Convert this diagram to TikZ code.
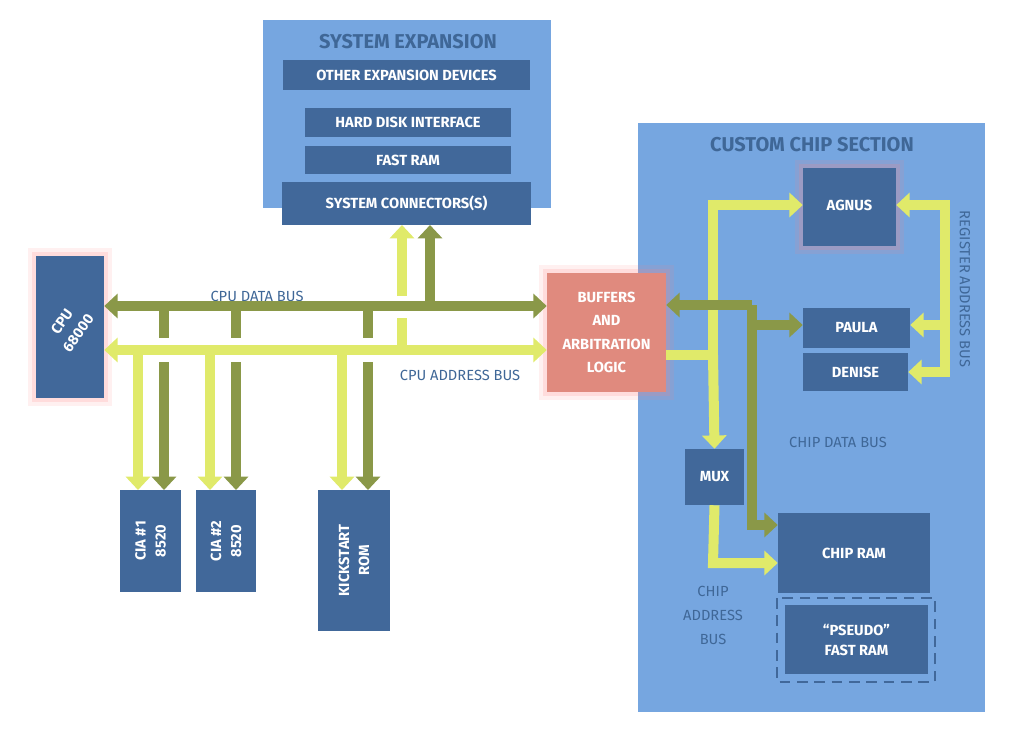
\documentclass[tikz,border=0pt]{standalone}
\usepackage{fontspec}
\setmainfont{Fira Sans}
\usetikzlibrary{arrows.meta}
\definecolor{reg}{HTML}{76A6E0}
\definecolor{blk}{HTML}{41689A}
\definecolor{sal}{HTML}{E08A7E}
\definecolor{ol}{HTML}{8A9848}
\definecolor{yl}{HTML}{E0EA6A}
\definecolor{lab}{HTML}{3F6797}
\begin{document}
\begin{tikzpicture}[x=0.75pt,y=-0.75pt,
  region/.style={fill=reg,draw=none},
  box/.style={fill=blk,draw=none,text=white,font=\bfseries\fontsize{11}{15}\selectfont,align=center,inner sep=0pt},
  glow/.style={preaction={draw=red!50,line width=12pt,draw opacity=0.12},preaction={draw=red!50,line width=6pt,draw opacity=0.18}},
  lbl/.style={text=lab,font=\fontsize{11}{15}\selectfont,align=center},
  ttl/.style={text=lab,font=\bfseries\fontsize{15}{18}\selectfont},
  rtxt/.style={text=white,font=\bfseries\fontsize{11}{15}\selectfont,align=center},
  dbus/.style={draw=ol,line width=7.5pt},
  abus/.style={draw=yl,line width=7.5pt},
  tip/.style={-{Triangle[width=18pt,length=10pt]}},
  tips/.style={{Triangle[width=18pt,length=10pt]}-{Triangle[width=18pt,length=10pt]}}]
\useasboundingbox (0,0) rectangle (1024,740);
% regions
\fill[region] (263,20) rectangle (551,208);
\node[ttl] (sx) at (408,42) {SYSTEM EXPANSION};
\fill[region] (638,123) rectangle (985,712);
\node[ttl] (cc) at (812,145) {CUSTOM CHIP SECTION};
% system expansion boxes
\node[box,minimum width=247*0.75pt,minimum height=30*0.75pt] (oth) at (406.5,75) {OTHER EXPANSION DEVICES};
\node[box,minimum width=206*0.75pt,minimum height=29*0.75pt] (hdi) at (408,122.5) {HARD DISK INTERFACE};
\node[box,minimum width=206*0.75pt,minimum height=28*0.75pt] (fr) at (408,160) {FAST RAM};
\node[box,minimum width=249*0.75pt,minimum height=43*0.75pt] (sc) at (406.5,203.5) {SYSTEM CONNECTORS(S)};
% left side
\node[box,glow,minimum width=68*0.75pt,minimum height=142*0.75pt] (cpu) at (70,327) {};
\node[rtxt,rotate=55] (cput) at (70,327) {CPU\\68000};
\node[box,glow,fill=sal,minimum width=119*0.75pt,minimum height=119*0.75pt,font=\bfseries\fontsize{11}{17.5}\selectfont] (buf) at (606.5,332.5) {BUFFERS\\AND\\ARBITRATION\\LOGIC};
\node[box,minimum width=61*0.75pt,minimum height=102*0.75pt] (cia1) at (150.5,541) {};
\node[rtxt,rotate=90] (cia1t) at (150.5,541) {CIA \#1\\8520};
\node[box,minimum width=60*0.75pt,minimum height=102*0.75pt] (cia2) at (226,541) {};
\node[rtxt,rotate=90] (cia2t) at (226,541) {CIA \#2\\8520};
\node[box,minimum width=72*0.75pt,minimum height=141*0.75pt] (ks) at (354,560.5) {};
\node[rtxt,rotate=90] (kst) at (354,560.5) {KICKSTART\\ROM};
% custom chips
\node[box,glow,minimum width=93*0.75pt,minimum height=78*0.75pt] (agnus) at (849.5,207) {};
\node[rtxt] (agt) at (849.5,205) {AGNUS};
\node[box,minimum width=107*0.75pt,minimum height=40*0.75pt] (paula) at (856.5,328) {PAULA};
\node[box,minimum width=105*0.75pt,minimum height=38*0.75pt] (denise) at (855.5,372) {DENISE};
\node[box,minimum width=59*0.75pt,minimum height=56*0.75pt] (mux) at (714.5,477) {MUX};
\node[box,minimum width=152*0.75pt,minimum height=80*0.75pt] (cram) at (854,553) {CHIP RAM};
\node[box,minimum width=143*0.75pt,minimum height=69*0.75pt] (pfr) at (856.5,639.5) {``PSEUDO''\\FAST RAM};
\draw[blk,line width=2pt,dash pattern=on 8pt off 5pt] (777,598) rectangle (935,682);
% labels
\node[lbl] (l1) at (257,296) {CPU DATA BUS};
\node[lbl] (l2) at (460,375) {CPU ADDRESS BUS};
\node[lbl] (l3) at (838,442) {CHIP DATA BUS};
\node[lbl,font=\fontsize{11}{18}\selectfont] (l4) at (713,615) {CHIP\\ADDRESS\\BUS};
\node[lbl,rotate=-90] (l5) at (965,289) {REGISTER ADDRESS BUS};
% CPU bus drops
\draw[dbus,tip] (164,306) -- (164,490);
\draw[dbus,tip] (236,306) -- (236,490);
\draw[dbus,tip] (368,306) -- (368,490);
\foreach \x in {164,236,368} \draw[white,line width=16pt] (\x,338) -- (\x,362);
\draw[abus] (402,350) -- (402,318);
\draw[abus,tip] (402,296) -- (402,225);
\draw[dbus,tip] (430,306) -- (430,225);
\draw[dbus,tips] (cpu.east|-0,306) -- (buf.west|-0,306);
\draw[abus,tips] (cpu.east|-0,350) -- (buf.west|-0,350);
\draw[abus,tip] (138,350) -- (138,490);
\draw[abus,tip] (210,350) -- (210,490);
\draw[abus,tip] (342,350) -- (342,490);
% custom chip buses
\draw[abus] (buf.east|-0,355) -- (713,355);
\draw[abus,tip] (713,355) -- (713,205) -- (agnus.west|-0,205);
\draw[abus,tip] (713,355) -- (mux.north);
\draw[abus,tip] (mux.south) -- (713,563) -- (cram.west|-0,563);
\draw[dbus,tip] (752,305) -- (buf.east|-0,305);
\draw[dbus,tip] (752,305) -- (752,525) -- (cram.west|-0,525);
\draw[dbus,tip] (752,325) -- (paula.west|-0,325);
\draw[abus,tip] (945,280) -- (945,205) -- (agnus.east|-0,205);
\draw[abus,tip] (945,280) -- (945,325) -- (paula.east|-0,325);
\draw[abus,tip] (945,325) -- (945,372) -- (denise.east|-0,372);
\end{tikzpicture}
\end{document}
